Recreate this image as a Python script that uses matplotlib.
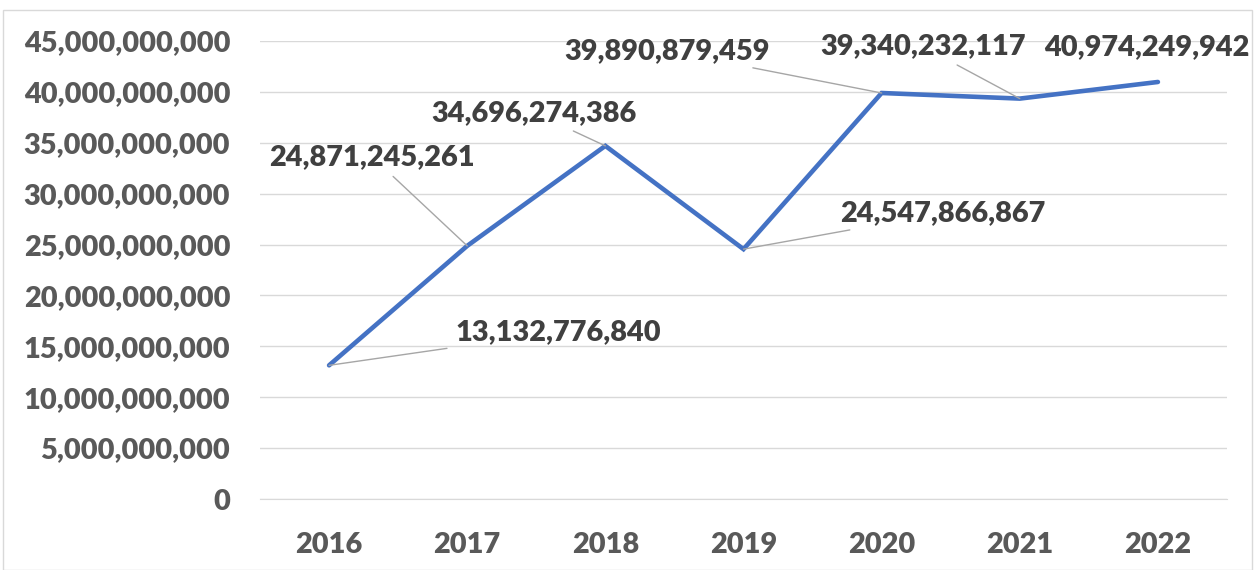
import matplotlib
matplotlib.use("Agg")
import matplotlib.pyplot as plt
from matplotlib.patches import Rectangle
from matplotlib.ticker import FuncFormatter, MultipleLocator

years = ["2016", "2017", "2018", "2019", "2020", "2021", "2022"]
values = [13132776840, 24871245261, 34696274386, 24547866867,
          39890879459, 39340232117, 40974249942]
# label offsets in pixels from each point (x right, y up)
label_offsets = [(229, 33), (-95, 89), (-71, 33), (199, 36),
                 (-215, 42), (-97, 52), (-11, 35)]
has_leader = [True, True, True, True, True, True, False]

plt.rcParams['font.family'] = ['Lato', 'DejaVu Sans']
label_color = '#404040'
tick_color = '#595959'
fs = 20.8
weight = 'heavy'

fig = plt.figure(figsize=(12.55, 5.7), dpi=100)
fig.patches.append(Rectangle((3 / 1255, 0), 1249 / 1255, 560 / 570,
                             transform=fig.transFigure, fill=False,
                             edgecolor='#d9d9d9', lw=1))
ax = fig.add_axes([260 / 1255, 71 / 570, 967 / 1255, 458 / 570])

x = list(range(len(years)))
ax.plot(x, values, color='#4472C4', lw=3.3, solid_joinstyle='miter',
        solid_capstyle='round', zorder=3)

ax.set_xlim(-0.5, len(years) - 0.5)
ax.set_ylim(0, 45e9)
ax.yaxis.set_major_locator(MultipleLocator(5e9))
ax.yaxis.set_major_formatter(FuncFormatter(lambda v, p: f"{v:,.0f}"))
ax.set_xticks(x)
ax.set_xticklabels(years)
ax.grid(axis='y', color='#d9d9d9', lw=1)
ax.set_axisbelow(True)
for s in ['top', 'right', 'left']:
    ax.spines[s].set_visible(False)
ax.spines['bottom'].set_color('#d9d9d9')
ax.tick_params(length=0, labelsize=fs, labelcolor=tick_color)
ax.tick_params(axis='x', pad=24)
ax.tick_params(axis='y', pad=21.5)
for lab in ax.get_xticklabels() + ax.get_yticklabels():
    lab.set_fontweight(weight)

for xi, v, (dx, dy), lead in zip(x, values, label_offsets, has_leader):
    ax.annotate(f"{v:,}", xy=(xi, v), xytext=(dx, dy),
                textcoords='offset pixels', ha='center', va='center',
                fontsize=fs, fontweight=weight, color=label_color,
                arrowprops=dict(arrowstyle='-', color='#a6a6a6', lw=1,
                                shrinkA=4, shrinkB=0) if lead else None)

fig.savefig("out.png", dpi=100)
